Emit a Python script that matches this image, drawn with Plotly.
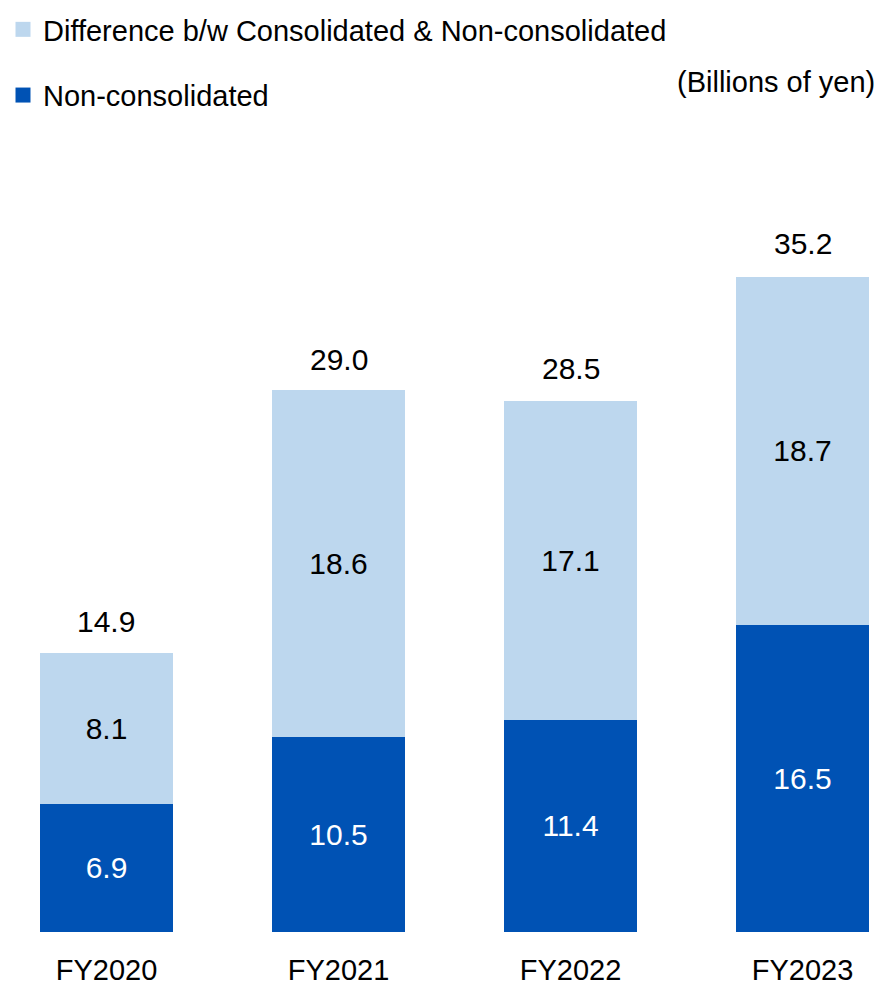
import plotly.graph_objects as go

# Ordinary profit by fiscal year (billions of yen)
years = ["FY2020", "FY2021", "FY2022", "FY2023"]
non_consolidated = [6.9, 10.5, 11.4, 16.5]
difference = [8.1, 18.6, 17.1, 18.7]
totals = [14.9, 29.0, 28.5, 35.2]

LIGHT = "#BDD7EE"
DARK = "#0052B4"
FONT = "Liberation Sans, Arial, sans-serif"
NUM_SIZE = 30

fig = go.Figure()

fig.add_trace(go.Bar(
    x=years, y=non_consolidated, name="Non-consolidated",
    marker=dict(color=DARK, line=dict(width=0)),
    text=[f"{v:.1f}" for v in non_consolidated],
    textposition="inside", insidetextanchor="middle", textangle=0,
    constraintext="none",
    textfont=dict(color="white", size=NUM_SIZE, family=FONT),
    width=0.573, showlegend=False,
))
fig.add_trace(go.Bar(
    x=years, y=difference, name="Difference b/w Consolidated & Non-consolidated",
    marker=dict(color=LIGHT, line=dict(width=0)),
    text=[f"{v:.1f}" for v in difference],
    textposition="inside", insidetextanchor="middle", textangle=0,
    constraintext="none",
    textfont=dict(color="black", size=NUM_SIZE, family=FONT),
    width=0.573, showlegend=False,
))

# Legend entries with larger square swatches
for name, color, rank, grp in [
    ("Difference b/w Consolidated & Non-consolidated", LIGHT, 1, "diff"),
    ("Non-consolidated", DARK, 2, "non"),
]:
    fig.add_trace(go.Scatter(
        x=[years[0]], y=[None], mode="markers", name=name,
        marker=dict(symbol="square", size=15, color=color),
        legendrank=rank, legendgroup=grp, hoverinfo="skip",
    ))

# Totals above each stack
for yr, tot in zip(years, totals):
    fig.add_annotation(
        x=yr, y=tot, text=f"{tot:.1f}", showarrow=False,
        yanchor="middle", yshift=33,
        font=dict(size=NUM_SIZE, color="black", family=FONT),
    )

fig.add_annotation(
    xref="paper", yref="paper", x=1, y=(932 - 82) / 782,
    xanchor="right", yanchor="middle", showarrow=False,
    text="(Billions of yen)", font=dict(size=29, color="black", family=FONT),
)

fig.update_layout(
    width=877, height=985,
    margin=dict(l=0, r=0, t=150, b=53),
    barmode="stack",
    plot_bgcolor="white", paper_bgcolor="white",
    font=dict(family=FONT, color="black"),
    showlegend=True,
    legend=dict(
        xref="paper", yref="paper", x=3 / 877, y=(932 - 4) / 782,
        xanchor="left", yanchor="top",
        orientation="v", tracegroupgap=25, itemsizing="trace",
        font=dict(size=29, color="black", family=FONT),
        bgcolor="rgba(0,0,0,0)",
    ),
    xaxis=dict(
        type="category", range=[-0.459, 3.321],
        showgrid=False, showline=False, zeroline=False,
        ticks="", ticklabelstandoff=18,
        tickfont=dict(size=29, color="black", family=FONT),
    ),
    yaxis=dict(
        range=[0, 42.0], visible=False, showgrid=False, zeroline=False,
    ),
)

fig.write_html("out.html")
